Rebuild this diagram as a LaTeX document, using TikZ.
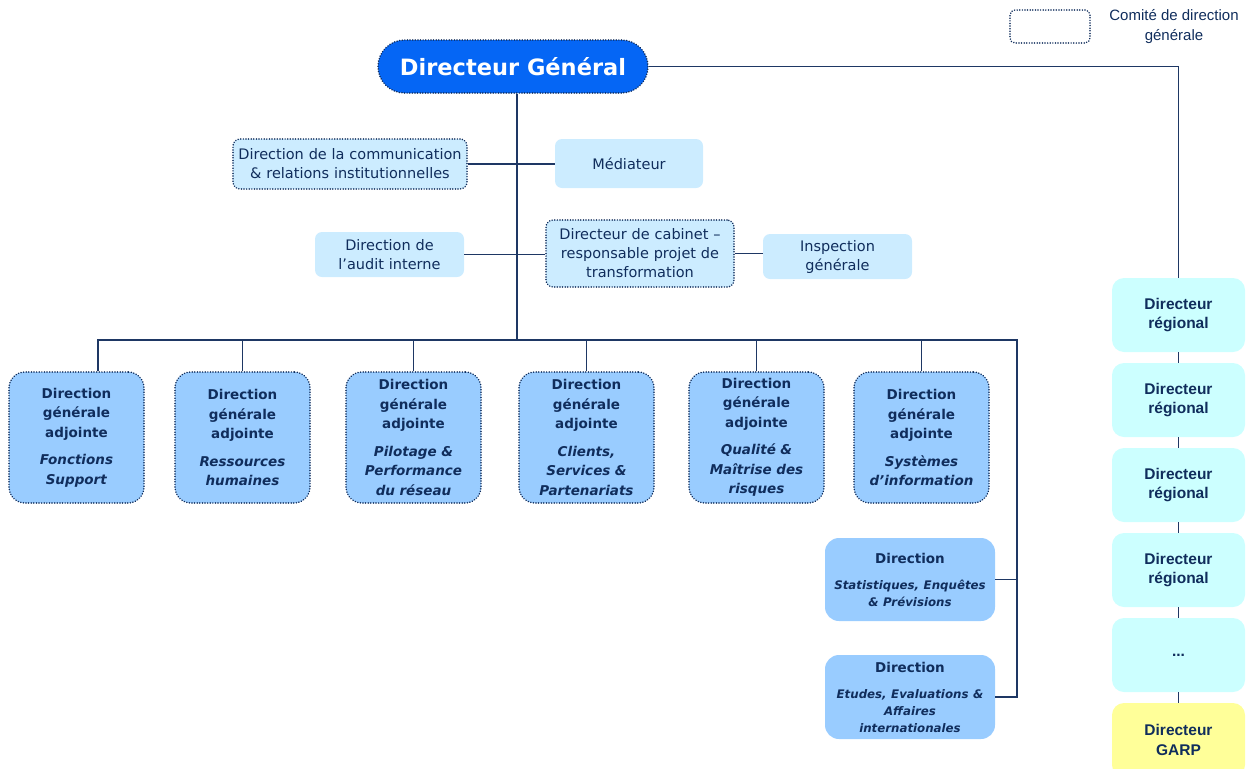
\documentclass[tikz,border=0pt]{standalone}
\usepackage{fontspec}
\setmainfont{DejaVu Sans}
\newfontfamily\arialfont{Liberation Sans}
\usetikzlibrary{positioning}
\definecolor{navy}{RGB}{16,45,92}
\definecolor{linecol}{RGB}{30,55,100}
\definecolor{dgblue}{RGB}{5,102,245}
\definecolor{paleblue}{RGB}{204,236,255}
\definecolor{midblue}{RGB}{153,204,255}
\definecolor{cyanpale}{RGB}{204,255,255}
\definecolor{garpyellow}{RGB}{255,255,153}
\tikzset{
comite/.style = {draw=navy, line width=1.7pt, line cap=round, dash pattern=on 0.01pt off 2.6pt},
small/.style  = {fill=paleblue, rounded corners=7pt, text=navy, align=center, inner sep=2pt, font=\fontsize{14.5}{19}\selectfont},
dga/.style    = {comite, fill=midblue, rounded corners=16pt, text=navy, align=center, text width=131pt, minimum height=131pt, inner sep=2pt, font=\fontsize{13.5}{19.5}\selectfont\bfseries},
dir/.style    = {fill=midblue, rounded corners=14pt, text=navy, align=center, text width=166pt, minimum height=83pt, inner sep=2pt, font=\fontsize{13.5}{17}\selectfont\bfseries},
reg/.style    = {fill=cyanpale, rounded corners=12pt, text=navy, align=center, text width=129pt, minimum height=74pt, inner sep=2pt, font=\arialfont\fontsize{15.5}{19.5}\selectfont\bfseries},
link/.style   = {draw=linecol, line width=1.5pt}
}

\begin{document}
\begin{tikzpicture}[x=1pt, y=-1pt]
  \useasboundingbox (0,0) rectangle (1254,769);

  % legende
  \node [comite, rounded corners=5pt, minimum width=80pt, minimum height=33pt] (legbox) at (1050,26.5) {};
  \node [text=navy, align=center, font=\arialfont\fontsize{15}{20}\selectfont] (legtext) at (1174,27) {Comité de direction\\générale};

  % direction generale
  \node [comite, fill=dgblue, rounded corners=26.5pt, minimum width=270pt, minimum height=53pt, text=white, font=\fontsize{22.5}{26}\selectfont\bfseries] (dg) at (513,66.5) {Directeur Général};
  \node [small, comite, text width=230pt, minimum height=50pt] (comm)  at (350,164)     {Direction de la communication\\\& relations institutionnelles};
  \node [small, minimum width=148pt, minimum height=49pt]       (med)   at (629,163.5)   {Médiateur};
  \node [small, text width=145pt, minimum height=45pt]          (audit) at (389.5,254.5) {Direction de\\l’audit interne};
  \node [small, comite, text width=184pt, minimum height=67pt]  (cab)   at (640,253.5)   {Directeur de cabinet –\\responsable projet de\\transformation};
  \node [small, text width=145pt, minimum height=45pt]          (insp)  at (837.5,256.5) {Inspection\\générale};

  % directions generales adjointes
  \node [dga] (dga1) at (76.5,437.5)  {Direction\\générale\\adjointe\\[8pt]\textit{Fonctions}\\\textit{Support}};
  \node [dga] (dga2) at (242.5,437.5) {Direction\\générale\\adjointe\\[8pt]\textit{Ressources}\\\textit{humaines}};
  \node [dga] (dga3) at (413.5,437.5) {Direction\\générale\\adjointe\\[8pt]\textit{Pilotage \&}\\\textit{Performance}\\\textit{du réseau}};
  \node [dga] (dga4) at (586.5,437.5) {Direction\\générale\\adjointe\\[8pt]\textit{Clients,}\\\textit{Services \&}\\\textit{Partenariats}};
  \node [dga] (dga5) at (756.5,437.5) {Direction\\générale\\adjointe\\[8pt]\textit{Qualité \&}\\\textit{Maîtrise des}\\\textit{risques}};
  \node [dga] (dga6) at (921.5,437.5) {Direction\\générale\\adjointe\\[8pt]\textit{Systèmes}\\\textit{d’information}};

  \node [dir] (dse) at (910,579.5) {Direction\\[9pt]{\fontsize{11.8}{17}\selectfont\itshape Statistiques, Enquêtes\\\& Prévisions}};
  \node [dir, minimum height=84pt] (dee) at (910,697) {Direction\\[9pt]{\fontsize{11.8}{17}\selectfont\itshape Etudes, Evaluations \&\\Affaires\\internationales}};

  % directeurs regionaux
  \node [reg] (reg1) at (1178.5,315) {Directeur\\régional};
  \node [reg, below of=reg1, node distance=85pt] (reg2) {Directeur\\régional};
  \node [reg, below of=reg2, node distance=85pt] (reg3) {Directeur\\régional};
  \node [reg, below of=reg3, node distance=85pt] (reg4) {Directeur\\régional};
  \node [reg, below of=reg4, node distance=85pt] (reg5) {...};
  \node [reg, fill=garpyellow, below of=reg5, node distance=85pt] (garp) {Directeur\\GARP};

  \coordinate (bus)    at (517,340);
  \coordinate (busend) at (1017,340);

  \draw [link] (dg.east) -| (reg1.north);
  \draw [link] (dg.south -| bus) -- (bus);
  \draw [link] (comm.east) -- (comm.east -| med.west);
  \draw [link] (audit.east) -- (audit.east -| cab.west);
  \draw [link] (cab.east) -- (cab.east -| insp.west);
  \draw [link] ([xshift=21.5pt]dga1.north) |- (busend) |- (dee.east);
  \draw [link] (dse.east) -- (dse.east -| busend);
  \foreach \n in {2,...,6}
    \draw [link] (dga\n.north) -- (dga\n.north |- bus);
  \foreach \a/\b in {reg1/reg2,reg2/reg3,reg3/reg4,reg4/reg5,reg5/garp}
    \draw [link] (\a) -- (\b);
\end{tikzpicture}
\end{document}
